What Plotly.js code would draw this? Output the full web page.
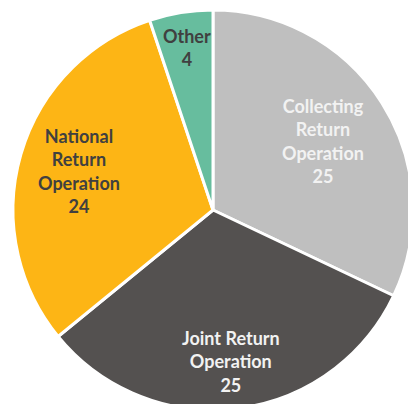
<!DOCTYPE html>
<html>
<head>
<meta charset="utf-8">
<script src="https://cdn.plot.ly/plotly-3.0.1.min.js"></script>
<style>
html,body{margin:0;padding:0;overflow:hidden;background:#fff;}
#chart{width:426px;height:420px;}
</style>
</head>
<body>
<div id="chart"></div>
<script>
const categories = ["Collecting Return Operation", "Joint Return Operation", "National Return Operation", "Other"];
const wrappedLabels = ["Collecting<br>Return<br>Operation", "Joint Return<br>Operation", "National<br>Return<br>Operation", "Other"];
const values = [25, 25, 24, 4];
const colors = ["#BFBFBF", "#545150", "#FDB515", "#67BD9E"];
const textColors = ["#F2F2F2", "#F2F2F2", "#404040", "#404040"];
// radial position of each label, as a fraction of the pie radius (style only)
const labelRadius = [0.65, 0.765, 0.70, 0.825];

const trace = {
  type: "pie",
  labels: categories,
  values: values,
  textinfo: "none",
  sort: false,
  direction: "clockwise",
  rotation: 0,
  hoverinfo: "label+value",
  marker: { colors: colors, line: { color: "#FFFFFF", width: 3 } },
  showlegend: false
};

// Label positions derived from the data: mid-angle of each slice
const total = values.reduce((a, b) => a + b, 0);
let cum = 0;
const annotations = values.map((v, i) => {
  const mid = (cum + v / 2) / total * 2 * Math.PI; // clockwise from 12 o'clock
  cum += v;
  const r = 0.5 * labelRadius[i];
  return {
    xref: "paper", yref: "paper",
    x: 0.5 + r * Math.sin(mid),
    y: 0.5 + r * Math.cos(mid),
    xanchor: "center", yanchor: "middle",
    text: wrappedLabels[i] + "<br>" + v,
    showarrow: false,
    align: "center",
    font: { family: "Lato, 'Open Sans', sans-serif", size: 18, color: textColors[i], weight: "bold" }
  };
});

const layout = {
  width: 426,
  height: 420,
  margin: { l: 13, r: 13, t: 10, b: 10 },
  paper_bgcolor: "#FFFFFF",
  showlegend: false,
  annotations: annotations
};

Plotly.newPlot("chart", [trace], layout, { displayModeBar: false, staticPlot: true });
</script>
</body>
</html>
